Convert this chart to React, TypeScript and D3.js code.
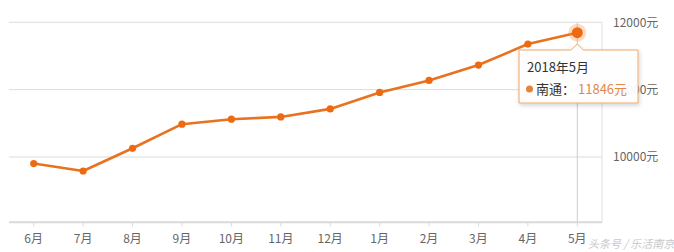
import React from "react";
import * as d3 from "d3";

const months = ["6月", "7月", "8月", "9月", "10月", "11月", "12月", "1月", "2月", "3月", "4月", "5月"];
const prices = [9902, 9792, 10129, 10487, 10561, 10595, 10714, 10958, 11137, 11365, 11677, 11846];
const yTicks = [10000, 11000, 12000];
const tooltipTitle = "2018年5月";
const seriesName = "南通";

const W = 674;
const H = 252;
const plotL = 9;
const plotR = 602;
const plotT = 22.3;
const plotB = 222.3;
const lineColor = "#e8721f";
const font = "'Microsoft YaHei', 'Noto Sans CJK SC', sans-serif";

export default function App() {
  const x = d3.scaleBand<string>().domain(months).range([plotL, plotR]);
  const cx = (m: string) => (x(m) as number) + x.bandwidth() / 2;
  const y = d3.scaleLinear().domain([9030, 12000]).range([plotB, plotT]);
  const line = d3
    .line<number>()
    .x((_, i) => cx(months[i]))
    .y((d) => y(d));
  const lastI = prices.length - 1;
  const px = cx(months[lastI]);
  const py = y(prices[lastI]);
  const tipL = 519;
  const tipT = 50;
  const tipR = 638;
  const tipB = 103;
  const notch = `M${tipL},${tipT} L${px - 6},${tipT} L${px},${tipT - 6} L${px + 6},${tipT} L${tipR},${tipT} L${tipR},${tipB} L${tipL},${tipB} Z`;
  return (
    <svg width={W} height={H} style={{ position: "absolute", left: 0, top: 0, fontFamily: font }}>
      <defs>
        <filter id="sh" x="-20%" y="-20%" width="140%" height="150%">
          <feDropShadow dx="1" dy="2" stdDeviation="2" floodColor="#000" floodOpacity="0.18" />
        </filter>
      </defs>
      <rect width={W} height={H} fill="#fff" />
      {yTicks.map((t) => (
        <g key={t}>
          <line x1={plotL} x2={plotR} y1={y(t)} y2={y(t)} stroke="#dcdcdc" strokeWidth={1} />
          <text x={613} y={y(t)} dy="0.35em" fontSize={12} fill="#666">
            {t}元
          </text>
        </g>
      ))}
      <line x1={plotR} x2={plotR} y1={plotT} y2={plotB} stroke="#e0e0e0" strokeWidth={1} />
      <line x1={plotL} x2={plotR} y1={plotB} y2={plotB} stroke="#d9d9d9" strokeWidth={2} />
      {months.map((m) => (
        <g key={m}>
          <line x1={cx(m)} x2={cx(m)} y1={plotB} y2={plotB + 4} stroke="#d9d9d9" strokeWidth={1} />
          <text x={cx(m)} y={239} dy="0.35em" textAnchor="middle" fontSize={12} fill="#666">
            {m}
          </text>
        </g>
      ))}
      <line x1={px} x2={px} y1={plotT} y2={plotB} stroke="#cccccc" strokeWidth={1} />
      <path d={line(prices) || ""} fill="none" stroke={lineColor} strokeWidth={2.6} strokeLinejoin="round" />
      {prices.map((p, i) =>
        i === lastI ? null : <circle key={i} cx={cx(months[i])} cy={y(p)} r={3.6} fill="#ee6a12" />
      )}
      <circle cx={px} cy={py} r={9} fill="#f38a3a" opacity={0.3} />
      <circle cx={px} cy={py} r={5.5} fill="#ee6a12" />
      <path d={notch} fill="rgba(255,255,255,0.93)" stroke="#f0a868" strokeWidth={1} filter="url(#sh)" />
      <text x={527} y={67} dy="0.35em" fontSize={13} fill="#333">
        {tooltipTitle}
      </text>
      <circle cx={529.5} cy={89} r={3.5} fill="#e8823a" />
      <text x={536} y={89} dy="0.35em" fontSize={13} fill="#333">
        {seriesName}：
      </text>
      <text x={578} y={89} dy="0.35em" fontSize={13} fill="#e08a4a">
        {prices[lastI]}元
      </text>
      <text x={588} y={244} dy="0.35em" fontSize={11} fill="#c8c8c8" fontStyle="italic">
        头条号 / 乐活南京
      </text>
    </svg>
  );
}
